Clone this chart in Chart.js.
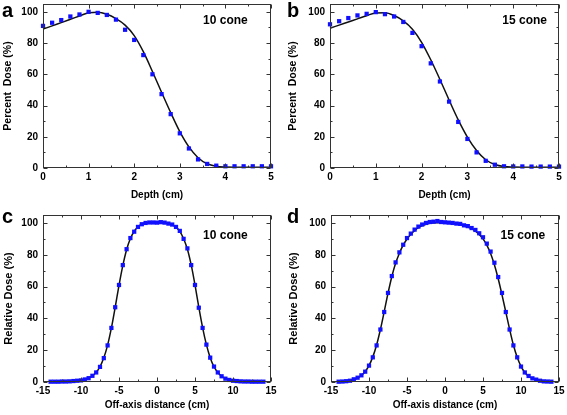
<!DOCTYPE html>
<html>
<head>
<meta charset="utf-8">
<script src="https://cdn.jsdelivr.net/npm/chart.js@4"></script>
<style>
  body { margin: 0; background: #fff; }
  #wrap { position: relative; width: 567px; height: 415px; overflow: hidden; }
  canvas { position: absolute; }
</style>
</head>
<body>
<div id="wrap">
  <canvas id="pa" width="285" height="205" style="left:0;top:0"></canvas>
  <canvas id="pb" width="282" height="205" style="left:285px;top:0"></canvas>
  <canvas id="pc" width="285" height="210" style="left:0;top:205px"></canvas>
  <canvas id="pd" width="282" height="210" style="left:285px;top:205px"></canvas>
</div>
<script>
// depth dose (panels a, b)
var depth = [0, 0.2, 0.4, 0.6, 0.8, 1.0, 1.2, 1.4, 1.6, 1.8, 2.0, 2.2, 2.4, 2.6, 2.8, 3.0, 3.2, 3.4, 3.6, 3.8, 4.0, 4.2, 4.4, 4.6, 4.8, 5.0];
var pdd10 = [91, 93, 94.7, 97, 98.3, 100, 99.3, 98, 95, 88.5, 82, 72.3, 60, 47.3, 34.5, 22.2, 12.5, 5.5, 2.6, 1.5, 1.1, 1.1, 1.1, 1.1, 1.1, 1.1];
var pdd10Fit = [88.9, 91, 93.1, 95.2, 97.3, 99.4, 99.7, 98.4, 95.6, 91.5, 84.8, 74.5, 61.8, 48.5, 35.5, 23.3, 13.5, 6.6, 2.7, 1.1, 0.6, 0.5, 0.5, 0.5, 0.5, 0.5];
var pdd15 = [92, 94, 96, 97.7, 98.7, 99.8, 98.5, 97, 93.5, 86.5, 78, 67, 55.4, 42.5, 29.5, 18.6, 10, 4.6, 2.1, 1.1, 1.0, 1.0, 0.9, 0.9, 0.9, 0.9];
var pdd15Fit = [89.5, 91.5, 93.5, 95.5, 97.5, 99.3, 99.4, 97.6, 94.2, 88.9, 80.5, 69.3, 56.7, 43.5, 30.8, 19.8, 11.2, 5.3, 2.2, 0.9, 0.6, 0.5, 0.5, 0.5, 0.5, 0.5];

// off-axis profiles (panels c, d)
var offAxis = [-14, -13.5, -13, -12.5, -12, -11.5, -11, -10.5, -10, -9.5, -9, -8.5, -8, -7.5, -7, -6.5, -6, -5.5, -5, -4.5, -4, -3.5, -3, -2.5, -2, -1.5, -1, -0.5,
               0, 0.5, 1, 1.5, 2, 2.5, 3, 3.5, 4, 4.5, 5, 5.5, 6, 6.5, 7, 7.5, 8, 8.5, 9, 9.5, 10, 10.5, 11, 11.5, 12, 12.5, 13, 13.5, 14];
var oar10 = [0.2, 0.2, 0.2, 0.3, 0.3, 0.4, 0.6, 0.8, 1.0, 1.6, 2.4, 3.9, 6, 9.5, 15, 23, 34, 47, 61, 73.5, 83.5, 90.5, 94.5, 97.5, 99.2, 100, 100.3, 100.3,
             100.2, 100.5, 100.2, 99.6, 99, 97.5, 95, 90, 84, 73.5, 61, 46.7, 34, 23.5, 15.3, 9.7, 6, 3.6, 2.1, 1.3, 0.8, 0.6, 0.4, 0.3, 0.3, 0.2, 0.2, 0.2, 0.2];
var oar10Fit = [0.1, 0.1, 0.2, 0.2, 0.3, 0.4, 0.5, 0.8, 1.1, 1.6, 2.5, 3.9, 6.1, 9.6, 15.2, 23.2, 34, 47, 60.8, 73.2, 83.2, 90.2, 94.8, 97.6, 99.2, 99.9, 100.1, 100.1,
                100.1, 100.1, 100, 99.6, 98.9, 97.4, 94.7, 90.1, 83.5, 73.6, 61, 47, 34.2, 23.5, 15.3, 9.6, 6, 3.6, 2.2, 1.3, 0.8, 0.5, 0.4, 0.3, 0.2, 0.2, 0.1, 0.1, 0.1];
var oar15 = [0.2, 0.3, 0.5, 0.8, 1.7, 2.7, 4.2, 6.5, 10.3, 15.5, 23, 33, 44, 56, 66.6, 75.2, 81.5, 86.3, 90.5, 93.3, 95.8, 97.7, 99, 100, 100.6, 100.8, 101.2, 100.6,
             100.4, 100.2, 100, 99.6, 99.4, 98.5, 98, 96.8, 95.6, 93.5, 91, 87, 82, 75, 66, 56, 44, 33, 23, 15.5, 9.7, 6, 3.8, 2.3, 1.5, 0.8, 0.4, 0.3, 0.2];
var oar15Fit = [0.2, 0.3, 0.5, 0.9, 1.5, 2.5, 4.1, 6.6, 10.3, 15.8, 23.3, 33, 44.2, 55.8, 66.2, 74.6, 81, 86, 89.9, 92.9, 95.2, 97, 98.3, 99.2, 99.8, 100.1, 100.2, 100.1,
                100, 99.8, 99.6, 99.3, 98.9, 98.3, 97.5, 96.4, 94.9, 92.8, 90, 86.1, 80.8, 73.7, 64.9, 54.8, 44, 33.2, 23.3, 15.5, 9.8, 6, 3.6, 2.2, 1.3, 0.8, 0.5, 0.3, 0.2];

var depthTicks = [0, 1, 2, 3, 4, 5];
var offTicks = [-15, -10, -5, 0, 5, 10, 15];
var doseTicks = [0, 20, 40, 60, 80, 100];

var fontFam = '"Liberation Sans", Arial, sans-serif';

function pts(xs, ys) {
    return xs.map(function (x, i) { return { x: x, y: ys[i] }; });
}

// box + inward ticks on all four sides, cone label and panel letter
var framePlugin = {
    id: 'frame',
    afterDraw: function (chart, args, o) {
        var ctx = chart.ctx, a = chart.chartArea, x = chart.scales.x, y = chart.scales.y;
        ctx.save();
        ctx.strokeStyle = '#333';
        ctx.lineWidth = 1;
        var L = Math.round(a.left) + 0.5, R = Math.round(a.right) - 0.5;
        var T = Math.round(a.top) + 0.5, B = Math.round(a.bottom) - 0.5;
        ctx.strokeRect(L, T, R - L, B - T);
        ctx.beginPath();
        var v, p, len, n;
        n = Math.round((x.max - x.min) / o.xMinor);
        for (var i = 0; i <= n; i++) {
            v = x.min + i * o.xMinor;
            p = Math.round(x.getPixelForValue(v)) + 0.5;
            len = (i % 2 === 0) ? 4 : 2;
            ctx.moveTo(p, B); ctx.lineTo(p, B - len);
            ctx.moveTo(p, T); ctx.lineTo(p, T + len);
        }
        n = Math.round(100 / o.yMinor);
        for (var j = 0; j <= n; j++) {
            v = j * o.yMinor;
            p = Math.round(y.getPixelForValue(v)) + 0.5;
            len = (j % 2 === 0) ? 4 : 2;
            ctx.moveTo(L, p); ctx.lineTo(L + len, p);
            ctx.moveTo(R, p); ctx.lineTo(R - len, p);
        }
        ctx.stroke();

        ctx.fillStyle = '#000';
        ctx.font = 'bold 12px ' + fontFam;
        ctx.textAlign = 'center';
        ctx.textBaseline = 'middle';
        ctx.fillText(o.note, x.getPixelForValue(o.noteX), y.getPixelForValue(o.noteY));

        ctx.font = 'bold 20px ' + fontFam;
        ctx.textAlign = 'left';
        ctx.textBaseline = 'alphabetic';
        ctx.fillText(o.letter, o.letterX, o.letterY);
        ctx.restore();
    }
};

function makePanel(id, p) {
    var ctx = document.getElementById(id).getContext('2d');
    return new Chart(ctx, {
        type: 'scatter',
        data: {
            datasets: [
                {
                    label: 'measured',
                    data: pts(p.xs, p.meas),
                    backgroundColor: '#1010ff',
                    borderWidth: 0,
                    pointStyle: 'rect',
                    pointRadius: 3,
                    clip: 6
                },
                {
                    label: 'fit',
                    data: pts(p.xs, p.fit),
                    showLine: true,
                    borderColor: '#111',
                    borderWidth: 1.5,
                    pointRadius: 0,
                    cubicInterpolationMode: 'monotone',
                    clip: 2
                }
            ]
        },
        options: {
            responsive: false,
            animation: false,
            events: [],
            layout: { padding: { left: 0, top: p.top, right: p.right, bottom: 0 } },
            plugins: {
                legend: { display: false },
                tooltip: { enabled: false },
                frame: { note: p.note, noteX: p.noteX, noteY: p.noteY, letter: p.letter, letterX: 2, letterY: p.letterY,
                         xMinor: p.xMinor, yMinor: 10 }
            },
            scales: {
                x: {
                    type: 'linear',
                    min: p.xmin,
                    max: p.xmax,
                    afterBuildTicks: function (s) { s.ticks = p.xticks.map(function (v) { return { value: v }; }); },
                    afterFit: function (s) { s.height = p.xh; s.paddingLeft = 0; s.paddingRight = 0; },
                    grid: { display: false, drawTicks: false },
                    border: { display: false },
                    ticks: { padding: 3, color: '#000', maxRotation: 0, autoSkip: false,
                             font: { family: fontFam, size: 10, weight: 'bold' } },
                    title: { display: true, text: p.xtitle, color: '#000', padding: { top: 0, bottom: 4 },
                             font: { family: fontFam, size: 10, weight: 'bold' } }
                },
                y: {
                    type: 'linear',
                    min: 0,
                    max: 105,
                    afterBuildTicks: function (s) { s.ticks = doseTicks.map(function (v) { return { value: v }; }); },
                    afterFit: function (s) { s.width = p.yw; s.paddingTop = 0; s.paddingBottom = 0; },
                    grid: { display: false, drawTicks: false },
                    border: { display: false },
                    ticks: { padding: 5, color: '#000',
                             font: { family: fontFam, size: 10, weight: 'bold' } },
                    title: { display: true, text: p.ytitle, color: '#000', padding: { top: 2, bottom: 0 },
                             font: { family: fontFam, size: p.ytsize, weight: 'bold' } }
                }
            }
        },
        plugins: [framePlugin]
    });
}

makePanel('pa', { xs: depth, meas: pdd10, fit: pdd10Fit, xmin: 0, xmax: 5, xticks: depthTicks, xMinor: 0.5,
    xtitle: 'Depth (cm)', ytitle: 'Percent  Dose (%)', ytsize: 10.5, yw: 43, xh: 37, top: 1, right: 14,
    note: '10 cone', noteX: 4.0, noteY: 94, letter: 'a', letterY: 17 });
makePanel('pb', { xs: depth, meas: pdd15, fit: pdd15Fit, xmin: 0, xmax: 5, xticks: depthTicks, xMinor: 0.5,
    xtitle: 'Depth (cm)', ytitle: 'Percent  Dose (%)', ytsize: 10.5, yw: 45, xh: 37, top: 1, right: 8,
    note: '15 cone', noteX: 4.25, noteY: 94, letter: 'b', letterY: 17 });
makePanel('pc', { xs: offAxis, meas: oar10, fit: oar10Fit, xmin: -15, xmax: 15, xticks: offTicks, xMinor: 2.5,
    xtitle: 'Off-axis distance (cm)', ytitle: 'Relative Dose (%)', ytsize: 11, yw: 43, xh: 33, top: 10, right: 14,
    note: '10 cone', noteX: 9.0, noteY: 92, letter: 'c', letterY: 18 });
makePanel('pd', { xs: offAxis, meas: oar15, fit: oar15Fit, xmin: -15, xmax: 15, xticks: offTicks, xMinor: 2.5,
    xtitle: 'Off-axis distance (cm)', ytitle: 'Relative Dose (%)', ytsize: 11, yw: 46, xh: 33, top: 10, right: 8,
    note: '15 cone', noteX: 10.25, noteY: 92, letter: 'd', letterY: 18 });
</script>
</body>
</html>
